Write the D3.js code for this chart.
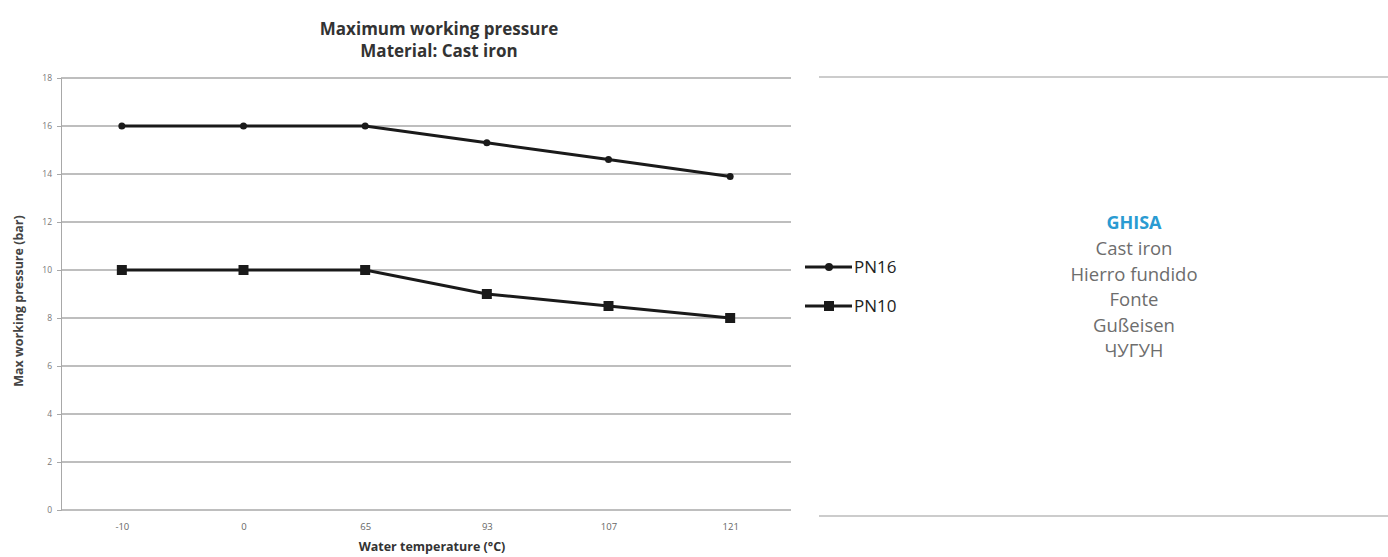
<!DOCTYPE html>
<html lang="en">
<head>
    <meta charset="UTF-8">
    <title>Maximum working pressure</title>
    <script src="https://cdn.jsdelivr.net/npm/d3@7"></script>
    <style>
        body { margin: 0; background: #fff; }
        svg text { font-family: "Open Sans", "Liberation Sans", sans-serif; }
    </style>
</head>
<body>
<svg width="1388" height="557"></svg>
<script>

    var temps = ["-10", "0", "65", "93", "107", "121"];
    var pn16 = [16, 16, 16, 15.3, 14.6, 13.9];
    var pn10 = [10, 10, 10, 9, 8.5, 8];
    var yTicks = [0, 2, 4, 6, 8, 10, 12, 14, 16, 18];
    var materials = ["Cast iron", "Hierro fundido", "Fonte", "Gußeisen", "ЧУГУН"];

    var svg = d3.select("svg");

    var x = d3.scalePoint().domain(temps).range([61, 791]).padding(0.5);
    var y = d3.scaleLinear().domain([0, 18]).range([510, 78]);

    // gridlines
    svg.append("g")
        .selectAll("line")
        .data(yTicks)
        .enter().append("line")
        .attr("x1", 61).attr("x2", 791)
        .attr("y1", function (d) { return y(d); })
        .attr("y2", function (d) { return y(d); })
        .style("stroke", "#a8a8a8")
        .style("stroke-width", 1.3);

    // y axis
    var yAxis = svg.append("g")
        .attr("transform", "translate(61,0)")
        .call(d3.axisLeft(y).tickValues(yTicks).tickSize(4).tickPadding(5));
    yAxis.select(".domain").style("stroke", "#a8a8a8");
    yAxis.selectAll(".tick line").style("stroke", "#a8a8a8");
    yAxis.selectAll("text").style("font-size", "8.5px").style("fill", "#777");

    // x axis
    var xAxis = svg.append("g")
        .attr("transform", "translate(0,510)")
        .call(d3.axisBottom(x).tickSize(0).tickPadding(13));
    xAxis.select(".domain").remove();
    xAxis.selectAll("text").style("font-size", "9.5px").style("fill", "#666");

    // title
    svg.append("text").attr("x", 439).attr("y", 35)
        .attr("text-anchor", "middle")
        .style("font-size", "17px").style("font-weight", "bold").style("fill", "#333")
        .text("Maximum working pressure");
    svg.append("text").attr("x", 439).attr("y", 57)
        .attr("text-anchor", "middle")
        .style("font-size", "17px").style("font-weight", "bold").style("fill", "#333")
        .text("Material: Cast iron");

    svg.append("text")
        .attr("transform", "translate(23,301) rotate(-90)")
        .attr("text-anchor", "middle")
        .style("font-size", "12.5px").style("font-weight", "bold").style("fill", "#444")
        .text("Max working pressure (bar)");

    svg.append("text").attr("x", 432).attr("y", 551)
        .attr("text-anchor", "middle")
        .style("font-size", "12.5px").style("font-weight", "bold").style("fill", "#333")
        .text("Water temperature (°C)");

    var line = d3.line()
        .x(function (d, i) { return x(temps[i]); })
        .y(function (d) { return y(d); });

    svg.append("path").datum(pn16).attr("d", line)
        .style("fill", "none").style("stroke", "#1a1a1a").style("stroke-width", 3);
    svg.append("path").datum(pn10).attr("d", line)
        .style("fill", "none").style("stroke", "#1a1a1a").style("stroke-width", 3);

    svg.append("g").selectAll("circle")
        .data(pn16)
        .enter().append("circle")
        .attr("cx", function (d, i) { return x(temps[i]); })
        .attr("cy", function (d) { return y(d); })
        .attr("r", 3.5)
        .style("fill", "#1a1a1a");

    svg.append("g").selectAll("rect")
        .data(pn10)
        .enter().append("rect")
        .attr("x", function (d, i) { return x(temps[i]) - 5; })
        .attr("y", function (d) { return y(d) - 5; })
        .attr("width", 10).attr("height", 10)
        .style("fill", "#1a1a1a");

    // legend
    var leg = svg.append("g");
    leg.append("line").attr("x1", 805).attr("x2", 852).attr("y1", 267).attr("y2", 267)
        .style("stroke", "#1a1a1a").style("stroke-width", 3);
    leg.append("circle").attr("cx", 829).attr("cy", 267).attr("r", 4).style("fill", "#1a1a1a");
    leg.append("text").attr("x", 854).attr("y", 273).style("font-size", "17px").style("fill", "#222").text("PN16");
    leg.append("line").attr("x1", 805).attr("x2", 852).attr("y1", 306).attr("y2", 306)
        .style("stroke", "#1a1a1a").style("stroke-width", 3);
    leg.append("rect").attr("x", 824).attr("y", 301).attr("width", 10).attr("height", 10).style("fill", "#1a1a1a");
    leg.append("text").attr("x", 854).attr("y", 312).style("font-size", "17px").style("fill", "#222").text("PN10");

    // right panel
    svg.append("line").attr("x1", 819).attr("x2", 1388).attr("y1", 77).attr("y2", 77)
        .style("stroke", "#999").style("stroke-width", 1);
    svg.append("line").attr("x1", 819).attr("x2", 1388).attr("y1", 516).attr("y2", 516)
        .style("stroke", "#999").style("stroke-width", 1);

    svg.append("text").attr("x", 1134).attr("y", 229)
        .attr("text-anchor", "middle")
        .style("font-size", "18px").style("font-weight", "bold").style("fill", "#2a9bd2")
        .text("GHISA");
    svg.append("g").selectAll("text")
        .data(materials)
        .enter().append("text")
        .attr("x", 1134)
        .attr("y", function (d, i) { return 255 + i * 25.5; })
        .attr("text-anchor", "middle")
        .style("font-size", "18.5px").style("fill", "#6d6d6d")
        .text(function (d) { return d; });

</script>
</body>
</html>
